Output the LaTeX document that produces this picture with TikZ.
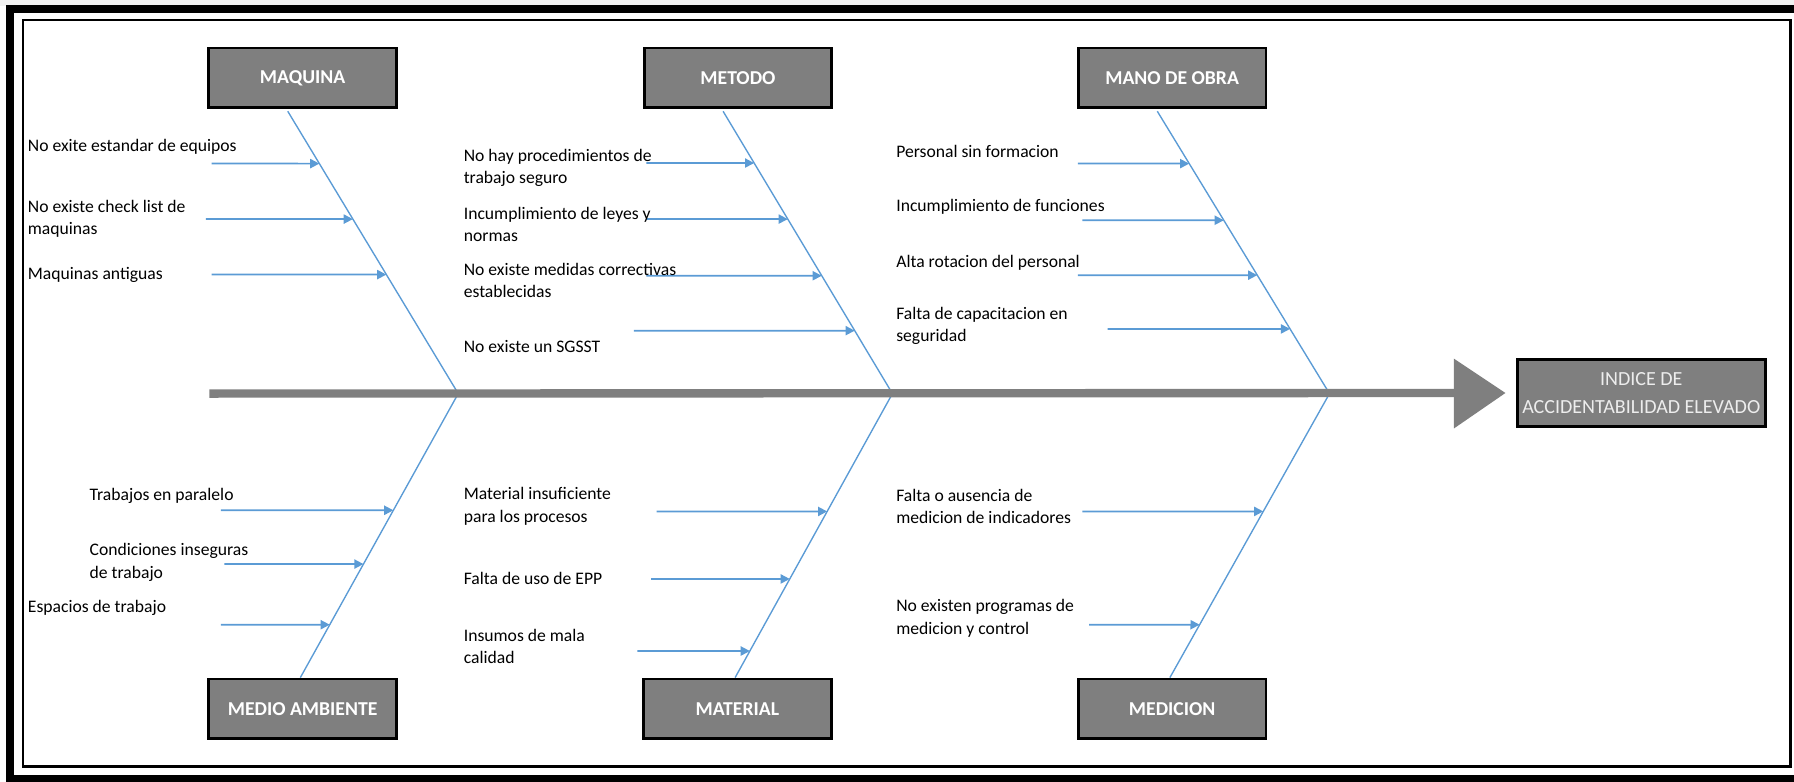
\documentclass[tikz,border=0pt]{standalone}
\usepackage{fontspec}
\setmainfont{Carlito}
\usetikzlibrary{calc,arrows.meta}
\definecolor{boxgray}{HTML}{7F7F7F}
\definecolor{boneblue}{HTML}{5B9BD5}
\newcommand\causearrow[4]{%
  \coordinate (za) at (0,#2);
  \coordinate (zb) at (1500,#2);
  \draw[cause] (#1,#2) -- (intersection of #3--#4 and za--zb);}
\begin{document}
\begin{tikzpicture}[x=0.5pt,y=-0.5pt,
  catbox/.style={draw=black, line width=1.25pt, fill=boxgray, minimum width=82pt, minimum height=26pt, inner sep=0pt, text=white, font=\fontsize{8.6}{11}\selectfont\bfseries},
  effbox/.style={draw=black, line width=1.25pt, fill=boxgray, minimum width=108.5pt, minimum height=29.5pt, inner sep=0pt, text=white!93!black, align=center, font=\fontsize{8.75}{12.25}\selectfont},
  causetext/.style={anchor=west, inner sep=0pt, align=left, font=\fontsize{7.7}{9.75}\selectfont, text=black},
  bone/.style={draw=boneblue, line width=0.6pt},
  cause/.style={draw=boneblue, line width=0.75pt, -{Triangle[length=4pt,width=4pt]}},
  spine/.style={draw=boxgray, line width=3.65pt}]
\useasboundingbox (0,0) rectangle (1568,683);
\clip (0,0) rectangle (1568,683);
% frame
\fill[gray!10] (0,0) rectangle (1568,5);
\draw[line width=3.5pt] (9,8) rectangle (1590,680.5);
\draw[line width=1.1pt] (20,17.5) rectangle (1565,670);
% category boxes
\node[catbox] (maq) at (264.5,68) {MAQUINA};
\node[catbox] (met) at (645,68) {METODO};
\node[catbox] (man) at (1024.5,68) {MANO DE OBRA};
\node[catbox] (amb) at (264.5,619.5) {MEDIO AMBIENTE};
\node[catbox] (mat) at (644.5,619.5) {MATERIAL};
\node[catbox] (med) at (1024.5,619.5) {MEDICION};
\node[effbox] (ind) at (1434.5,343.5) {INDICE DE\\ACCIDENTABILIDAD ELEVADO};
% junctions and bone ends
\coordinate (sp) at (183,344);
\coordinate (j1) at (400.5,344);
\coordinate (j2) at (780,344);
\coordinate (j3) at (1162,344);
\coordinate (u1) at ($(maq.south)+(-13,2)$);
\coordinate (u2) at ($(met.south)+(-13,2)$);
\coordinate (u3) at ($(man.south)+(-13,2)$);
\coordinate (l1) at ($(amb.north)+(-2,0)$);
\coordinate (l2) at ($(mat.north)+(-2,0)$);
\coordinate (l3) at ($(med.north)+(-2,0)$);
% bones
\draw[bone] (u1) -- (j1) -- (l1);
\draw[bone] (u2) -- (j2) -- (l2);
\draw[bone] (u3) -- (j3) -- (l3);
% spine and head
\draw[spine] (sp) -- ($(ind.west)+(-52,0)$);
\fill[boxgray] ($(ind.west)+(-54,-30)$) -- ($(ind.west)+(-9,0)$) -- ($(ind.west)+(-54,31)$) -- cycle;
% cause arrows
\causearrow{185}{143}{u1}{j1}
\causearrow{180}{191.5}{u1}{j1}
\causearrow{185}{240}{u1}{j1}
\causearrow{565}{142.5}{u2}{j2}
\causearrow{565}{191.5}{u2}{j2}
\causearrow{565}{241}{u2}{j2}
\causearrow{554}{289}{u2}{j2}
\causearrow{942}{143}{u3}{j3}
\causearrow{946}{192.5}{u3}{j3}
\causearrow{942}{240.5}{u3}{j3}
\causearrow{968}{287.5}{u3}{j3}
\causearrow{193}{446}{j1}{l1}
\causearrow{196}{493}{j1}{l1}
\causearrow{193}{546}{j1}{l1}
\causearrow{574}{447}{j2}{l2}
\causearrow{569}{506}{j2}{l2}
\causearrow{557}{569}{j2}{l2}
\causearrow{946}{447}{j3}{l3}
\causearrow{952}{546}{j3}{l3}
% cause texts
\node[causetext] (a1) at (24,128) {No exite estandar de equipos};
\node[causetext] (a2) at (24,191) {No existe check list de\\maquinas};
\node[causetext] (a3) at (24,240) {Maquinas antiguas};
\node[causetext] (b1) at (405,147) {No hay procedimientos de\\trabajo seguro};
\node[causetext] (b2) at (405,196) {Incumplimiento de leyes y\\normas};
\node[causetext] (b3) at (405,245) {No existe medidas correctivas\\establecidas};
\node[causetext] (b4) at (405,303) {No existe un SGSST};
\node[causetext] (c1) at (783,132) {Personal sin formacion};
\node[causetext] (c2) at (783,181) {Incumplimiento de funciones};
\node[causetext] (c3) at (783,230) {Alta rotacion del personal};
\node[causetext] (c4) at (783,285) {Falta de capacitacion en\\seguridad};
\node[causetext] (d1) at (78,433) {Trabajos en paralelo};
\node[causetext] (d2) at (78,491.5) {Condiciones inseguras\\de trabajo};
\node[causetext] (d3) at (24,531) {Espacios de trabajo};
\node[causetext] (e1) at (405,442.5) {Material insuficiente\\para los procesos};
\node[causetext] (e2) at (405,506) {Falta de uso de EPP};
\node[causetext] (e3) at (405,565) {Insumos de mala\\calidad};
\node[causetext] (f1) at (783,442.5) {Falta o ausencia de\\medicion de indicadores};
\node[causetext] (f2) at (783,540.5) {No existen programas de\\medicion y control};
\end{tikzpicture}
\end{document}
